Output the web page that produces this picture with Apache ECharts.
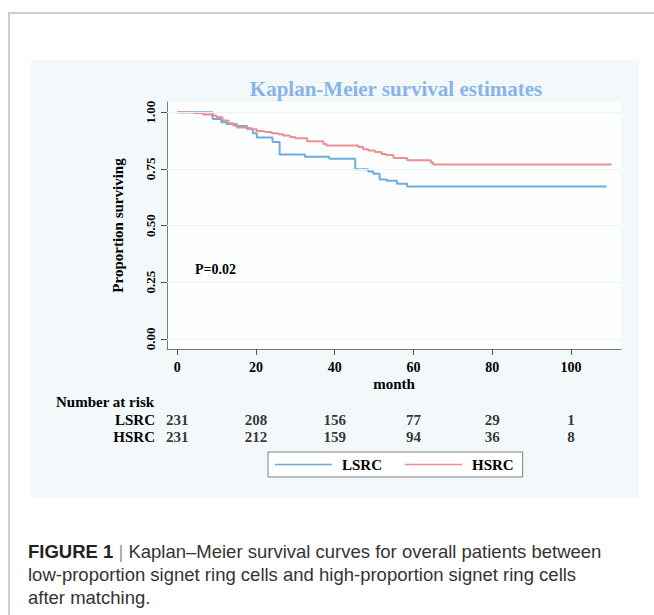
<!DOCTYPE html>
<html>
<head>
<meta charset="utf-8">
<script src="https://cdn.jsdelivr.net/npm/echarts@6/dist/echarts.min.js"></script>
<style>
  html, body { margin: 0; padding: 0; background: #ffffff; }
  #chart { width: 654px; height: 615px; }
</style>
</head>
<body>
<div id="chart"></div>
<script>
// Kaplan-Meier step data: time (months) at which survival drops, and survival after the drop
const lsrcTime = [0, 9.0, 11.2, 12.5, 15.1, 17.7, 19.2, 20.2, 24.2, 26.0, 32.4, 38.6, 45.2, 48.5, 49.8, 51.4, 53.2, 55.8, 58.4, 109.0];
const lsrcSurv = [1.0, 0.970, 0.956, 0.948, 0.939, 0.926, 0.907, 0.888, 0.868, 0.813, 0.803, 0.795, 0.748, 0.738, 0.728, 0.703, 0.697, 0.684, 0.672, 0.672];

const hsrcTime = [0, 4.3, 6.6, 8.7, 10.0, 11.5, 13.0, 14.2, 15.1, 17.2, 18.9, 20.2, 21.4, 22.3, 24.0, 25.7, 26.9, 28.6, 29.9, 33.0, 37.1, 37.9, 46.0, 47.2, 48.5, 50.2, 51.9, 53.0, 54.9, 58.4, 64.4, 65.0, 110.3];
const hsrcSurv = [1.0, 0.996, 0.990, 0.985, 0.978, 0.963, 0.951, 0.941, 0.932, 0.929, 0.925, 0.917, 0.914, 0.912, 0.907, 0.903, 0.897, 0.890, 0.885, 0.872, 0.860, 0.853, 0.846, 0.837, 0.831, 0.824, 0.815, 0.811, 0.798, 0.788, 0.778, 0.769, 0.769];

// Axis ticks
const xTicks = [0, 20, 40, 60, 80, 100];
const yTicks = [0, 0.25, 0.5, 0.75, 1.0];

// Number at risk table
const groups = ['LSRC', 'HSRC'];
const riskTimes = [0, 20, 40, 60, 80, 100];
const lsrcRisk = [231, 208, 156, 77, 29, 1];
const hsrcRisk = [231, 212, 159, 94, 36, 8];

const pValueText = 'P=0.02';

const SERIF = "'Liberation Serif', 'Times New Roman', serif";
const SANS = "'Liberation Sans', Arial, sans-serif";
const BLUE = '#6aaddf';
const RED = '#ee8d94';

const X_MIN = -2.6, X_MAX = 112.7;
const Y_MIN = -0.045, Y_MAX = 1.045;

const zip = (a, b) => a.map((v, i) => [v, b[i]]);
const riskRows = (name, arr) => riskTimes.map((t, i) => [t, name, arr[i]]);

const chart = echarts.init(document.getElementById('chart'), null, { renderer: 'svg' });

chart.setOption({
  animation: false,
  backgroundColor: '#ffffff',
  graphic: [
    // page frame lines
    { type: 'line', z: -10, shape: { x1: 9, y1: 13, x2: 654, y2: 13 }, style: { stroke: '#cdcdcd', lineWidth: 2 } },
    { type: 'line', z: -10, shape: { x1: 9, y1: 12, x2: 9, y2: 615 }, style: { stroke: '#cdcdcd', lineWidth: 2 } },
    // graph region background
    { type: 'rect', z: -9, shape: { x: 31, y: 60, width: 608, height: 438 }, style: { fill: '#f3f8fa' } },
    // chart title
    { type: 'text', z: 10, style: { x: 396, y: 89, text: 'Kaplan-Meier survival estimates', textAlign: 'center', textVerticalAlign: 'middle',
      font: "bold 21px " + SERIF, fill: '#88b4ea' } },
    // p-value annotation
    { type: 'text', z: 10, style: { x: 195, y: 269, text: pValueText, textAlign: 'left', textVerticalAlign: 'middle',
      font: "bold 14px " + SERIF, fill: '#000' } },
    // risk table heading
    { type: 'text', z: 10, style: { x: 56, y: 402, text: 'Number at risk', textAlign: 'left', textVerticalAlign: 'middle',
      font: "bold 15px " + SERIF, fill: '#000' } },
    // figure caption
    { type: 'text', z: 10, style: { x: 28, y: 551, textVerticalAlign: 'middle',
      text: '{b|FIGURE 1} {s||} Kaplan\u2013Meier survival curves for overall patients between',
      font: "18.5px " + SANS, fill: '#333333',
      rich: { b: { font: "bold 18.5px " + SANS, fill: '#222222' }, s: { font: "18.5px " + SANS, fill: '#999999' } } } },
    { type: 'text', z: 10, style: { x: 28, y: 574, textVerticalAlign: 'middle',
      text: 'low-proportion signet ring cells and high-proportion signet ring cells',
      font: "18.5px " + SANS, fill: '#333333' } },
    { type: 'text', z: 10, style: { x: 28, y: 597, textVerticalAlign: 'middle',
      text: 'after matching.', font: "18.5px " + SANS, fill: '#333333' } }
  ],
  legend: {
    data: groups,
    left: 268, top: 452,
    orient: 'horizontal',
    icon: 'rect',
    itemWidth: 57, itemHeight: 1.5,
    itemGap: 23,
    padding: [5, 9, 5, 7],
    borderColor: '#808080', borderWidth: 1,
    backgroundColor: '#ffffff',
    textStyle: { fontFamily: SERIF, fontWeight: 'bold', fontSize: 15, color: '#000', padding: [0, 0, 0, 5] }
  },
  grid: [
    { left: 167, top: 102, width: 454, height: 247, show: true, backgroundColor: '#fdfefe', borderWidth: 0 },
    { left: 167, top: 411.5, width: 454, height: 34 }
  ],
  xAxis: [
    {
      type: 'value', gridIndex: 0, min: X_MIN, max: X_MAX,
      name: 'month', nameLocation: 'middle', nameGap: 27,
      nameTextStyle: { fontFamily: SERIF, fontWeight: 'bold', fontSize: 15, color: '#000' },
      axisLine: { show: true, onZero: false, lineStyle: { color: '#7a7a7a', width: 1 } },
      axisTick: { show: true, length: 6, customValues: xTicks, lineStyle: { color: '#555' } },
      axisLabel: { customValues: xTicks, margin: 11, fontFamily: SERIF, fontWeight: 'bold', fontSize: 14, color: '#000' },
      splitLine: { show: false }
    },
    { type: 'value', gridIndex: 1, min: X_MIN, max: X_MAX, show: false }
  ],
  yAxis: [
    {
      type: 'value', gridIndex: 0, min: Y_MIN, max: Y_MAX,
      name: 'Proportion surviving', nameLocation: 'middle', nameGap: 42,
      nameTextStyle: { fontFamily: SERIF, fontWeight: 'bold', fontSize: 15, color: '#000' },
      axisLine: { show: true, onZero: false, lineStyle: { color: '#7a7a7a', width: 1 } },
      axisTick: { show: true, length: 6, customValues: yTicks, lineStyle: { color: '#555' } },
      axisLabel: { customValues: yTicks, rotate: 90, margin: 10, fontFamily: SERIF, fontWeight: 'bold', fontSize: 13, color: '#000',
        formatter: v => v.toFixed(2) },
      splitLine: { show: false }
    },
    {
      type: 'category', gridIndex: 1, inverse: true, data: groups,
      axisLine: { show: false }, axisTick: { show: false }, splitLine: { show: false },
      axisLabel: { interval: 0, margin: 12, fontFamily: SERIF, fontWeight: 'bold', fontSize: 15, color: '#000' }
    }
  ],
  series: [
    {
      // horizontal grid lines at the y ticks
      name: 'grid', type: 'line', xAxisIndex: 0, yAxisIndex: 0, data: [], z: 1, silent: true,
      markLine: { silent: true, symbol: 'none', label: { show: false },
        lineStyle: { color: '#edf2f4', width: 1, type: 'solid' },
        data: yTicks.map(v => ({ yAxis: v })) }
    },
    {
      name: 'LSRC', type: 'line', step: 'end', xAxisIndex: 0, yAxisIndex: 0, z: 3,
      showSymbol: false, symbol: 'none',
      data: zip(lsrcTime, lsrcSurv),
      itemStyle: { color: BLUE },
      lineStyle: { color: BLUE, width: 2 }
    },
    {
      name: 'HSRC', type: 'line', step: 'end', xAxisIndex: 0, yAxisIndex: 0, z: 3,
      showSymbol: false, symbol: 'none',
      data: zip(hsrcTime, hsrcSurv),
      itemStyle: { color: RED },
      lineStyle: { color: RED, width: 2 }
    },
    {
      name: 'risk', type: 'scatter', xAxisIndex: 1, yAxisIndex: 1, silent: true,
      symbolSize: 1, itemStyle: { color: 'rgba(0,0,0,0)' },
      data: riskRows('LSRC', lsrcRisk).concat(riskRows('HSRC', hsrcRisk)),
      label: { show: true, position: 'inside', formatter: p => String(p.value[2]),
        fontFamily: SERIF, fontWeight: 'bold', fontSize: 15, color: '#000' }
    }
  ]
});
</script>
</body>
</html>
